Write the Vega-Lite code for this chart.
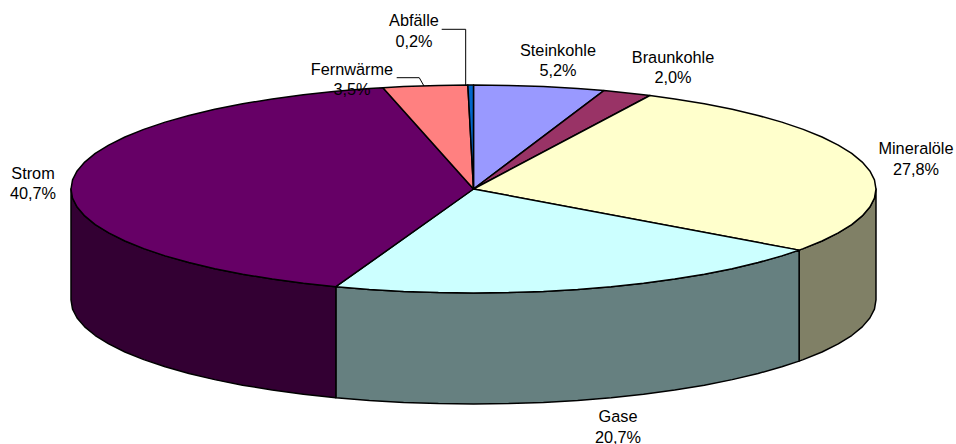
{"$schema":"https://vega.github.io/schema/vega-lite/v6.json","width":956,"height":444,"autosize":{"type":"none"},"padding":0,"background":"#ffffff","view":{"stroke":null},
"layer":[
{"data":{"values":[
{"s":"Mineralöle Seite","x":1,"y":0},{"s":"Mineralöle Seite","x":0.9962,"y":-0.0872},{"s":"Mineralöle Seite","x":0.9848,"y":-0.1736},{"s":"Mineralöle Seite","x":0.9659,"y":-0.2588},{"s":"Mineralöle Seite","x":0.9397,"y":-0.342},{"s":"Mineralöle Seite","x":0.9063,"y":-0.4226},{"s":"Mineralöle Seite","x":0.866,"y":-0.5},{"s":"Mineralöle Seite","x":0.8192,"y":-0.5736},{"s":"Mineralöle Seite","x":0.809,"y":-0.5878},
{"s":"Mineralöle Seite","x":0.809,"y":-1.6548},{"s":"Mineralöle Seite","x":0.8192,"y":-1.6406},{"s":"Mineralöle Seite","x":0.866,"y":-1.567},{"s":"Mineralöle Seite","x":0.9063,"y":-1.4896},{"s":"Mineralöle Seite","x":0.9397,"y":-1.409},{"s":"Mineralöle Seite","x":0.9659,"y":-1.3258},{"s":"Mineralöle Seite","x":0.9848,"y":-1.2406},{"s":"Mineralöle Seite","x":0.9962,"y":-1.1542},{"s":"Mineralöle Seite","x":1,"y":-1.067},
{"s":"Gase Seite","x":0.809,"y":-0.5878},{"s":"Gase Seite","x":0.766,"y":-0.6428},{"s":"Gase Seite","x":0.7071,"y":-0.7071},{"s":"Gase Seite","x":0.6428,"y":-0.766},{"s":"Gase Seite","x":0.5736,"y":-0.8192},{"s":"Gase Seite","x":0.5,"y":-0.866},{"s":"Gase Seite","x":0.4226,"y":-0.9063},{"s":"Gase Seite","x":0.342,"y":-0.9397},{"s":"Gase Seite","x":0.2588,"y":-0.9659},{"s":"Gase Seite","x":0.1736,"y":-0.9848},{"s":"Gase Seite","x":0.0872,"y":-0.9962},{"s":"Gase Seite","x":0,"y":-1},{"s":"Gase Seite","x":-0.0872,"y":-0.9962},{"s":"Gase Seite","x":-0.1736,"y":-0.9848},{"s":"Gase Seite","x":-0.2588,"y":-0.9659},{"s":"Gase Seite","x":-0.342,"y":-0.9397},
{"s":"Gase Seite","x":-0.342,"y":-2.0067},{"s":"Gase Seite","x":-0.2588,"y":-2.0329},{"s":"Gase Seite","x":-0.1736,"y":-2.0518},{"s":"Gase Seite","x":-0.0872,"y":-2.0632},{"s":"Gase Seite","x":0,"y":-2.067},{"s":"Gase Seite","x":0.0872,"y":-2.0632},{"s":"Gase Seite","x":0.1736,"y":-2.0518},{"s":"Gase Seite","x":0.2588,"y":-2.0329},{"s":"Gase Seite","x":0.342,"y":-2.0067},{"s":"Gase Seite","x":0.4226,"y":-1.9733},{"s":"Gase Seite","x":0.5,"y":-1.933},{"s":"Gase Seite","x":0.5736,"y":-1.8862},{"s":"Gase Seite","x":0.6428,"y":-1.833},{"s":"Gase Seite","x":0.7071,"y":-1.7741},{"s":"Gase Seite","x":0.766,"y":-1.7098},{"s":"Gase Seite","x":0.809,"y":-1.6548},
{"s":"Strom Seite","x":-0.342,"y":-0.9397},{"s":"Strom Seite","x":-0.4226,"y":-0.9063},{"s":"Strom Seite","x":-0.5,"y":-0.866},{"s":"Strom Seite","x":-0.5736,"y":-0.8192},{"s":"Strom Seite","x":-0.6428,"y":-0.766},{"s":"Strom Seite","x":-0.7071,"y":-0.7071},{"s":"Strom Seite","x":-0.766,"y":-0.6428},{"s":"Strom Seite","x":-0.8192,"y":-0.5736},{"s":"Strom Seite","x":-0.866,"y":-0.5},{"s":"Strom Seite","x":-0.9063,"y":-0.4226},{"s":"Strom Seite","x":-0.9397,"y":-0.342},{"s":"Strom Seite","x":-0.9659,"y":-0.2588},{"s":"Strom Seite","x":-0.9848,"y":-0.1736},{"s":"Strom Seite","x":-0.9962,"y":-0.0872},{"s":"Strom Seite","x":-1,"y":0},
{"s":"Strom Seite","x":-1,"y":-1.067},{"s":"Strom Seite","x":-0.9962,"y":-1.1542},{"s":"Strom Seite","x":-0.9848,"y":-1.2406},{"s":"Strom Seite","x":-0.9659,"y":-1.3258},{"s":"Strom Seite","x":-0.9397,"y":-1.409},{"s":"Strom Seite","x":-0.9063,"y":-1.4896},{"s":"Strom Seite","x":-0.866,"y":-1.567},{"s":"Strom Seite","x":-0.8192,"y":-1.6406},{"s":"Strom Seite","x":-0.766,"y":-1.7098},{"s":"Strom Seite","x":-0.7071,"y":-1.7741},{"s":"Strom Seite","x":-0.6428,"y":-1.833},{"s":"Strom Seite","x":-0.5736,"y":-1.8862},{"s":"Strom Seite","x":-0.5,"y":-1.933},{"s":"Strom Seite","x":-0.4226,"y":-1.9733},{"s":"Strom Seite","x":-0.342,"y":-2.0067},
{"s":"Steinkohle","x":0,"y":0},{"s":"Steinkohle","x":0,"y":1},{"s":"Steinkohle","x":0.0872,"y":0.9962},{"s":"Steinkohle","x":0.1736,"y":0.9848},{"s":"Steinkohle","x":0.2588,"y":0.9659},{"s":"Steinkohle","x":0.3239,"y":0.9461},
{"s":"Braunkohle","x":0,"y":0},{"s":"Braunkohle","x":0.3239,"y":0.9461},{"s":"Braunkohle","x":0.342,"y":0.9397},{"s":"Braunkohle","x":0.4226,"y":0.9063},{"s":"Braunkohle","x":0.4384,"y":0.8988},
{"s":"Mineralöle","x":0,"y":0},{"s":"Mineralöle","x":0.4384,"y":0.8988},{"s":"Mineralöle","x":0.5,"y":0.866},{"s":"Mineralöle","x":0.5736,"y":0.8192},{"s":"Mineralöle","x":0.6428,"y":0.766},{"s":"Mineralöle","x":0.7071,"y":0.7071},{"s":"Mineralöle","x":0.766,"y":0.6428},{"s":"Mineralöle","x":0.8192,"y":0.5736},{"s":"Mineralöle","x":0.866,"y":0.5},{"s":"Mineralöle","x":0.9063,"y":0.4226},{"s":"Mineralöle","x":0.9397,"y":0.342},{"s":"Mineralöle","x":0.9659,"y":0.2588},{"s":"Mineralöle","x":0.9848,"y":0.1736},{"s":"Mineralöle","x":0.9962,"y":0.0872},{"s":"Mineralöle","x":1,"y":0},{"s":"Mineralöle","x":0.9962,"y":-0.0872},{"s":"Mineralöle","x":0.9848,"y":-0.1736},{"s":"Mineralöle","x":0.9659,"y":-0.2588},{"s":"Mineralöle","x":0.9397,"y":-0.342},{"s":"Mineralöle","x":0.9063,"y":-0.4226},{"s":"Mineralöle","x":0.866,"y":-0.5},{"s":"Mineralöle","x":0.8192,"y":-0.5736},{"s":"Mineralöle","x":0.809,"y":-0.5878},
{"s":"Gase","x":0,"y":0},{"s":"Gase","x":0.809,"y":-0.5878},{"s":"Gase","x":0.766,"y":-0.6428},{"s":"Gase","x":0.7071,"y":-0.7071},{"s":"Gase","x":0.6428,"y":-0.766},{"s":"Gase","x":0.5736,"y":-0.8192},{"s":"Gase","x":0.5,"y":-0.866},{"s":"Gase","x":0.4226,"y":-0.9063},{"s":"Gase","x":0.342,"y":-0.9397},{"s":"Gase","x":0.2588,"y":-0.9659},{"s":"Gase","x":0.1736,"y":-0.9848},{"s":"Gase","x":0.0872,"y":-0.9962},{"s":"Gase","x":0,"y":-1},{"s":"Gase","x":-0.0872,"y":-0.9962},{"s":"Gase","x":-0.1736,"y":-0.9848},{"s":"Gase","x":-0.2588,"y":-0.9659},{"s":"Gase","x":-0.342,"y":-0.9397},
{"s":"Strom","x":0,"y":0},{"s":"Strom","x":-0.342,"y":-0.9397},{"s":"Strom","x":-0.4226,"y":-0.9063},{"s":"Strom","x":-0.5,"y":-0.866},{"s":"Strom","x":-0.5736,"y":-0.8192},{"s":"Strom","x":-0.6428,"y":-0.766},{"s":"Strom","x":-0.7071,"y":-0.7071},{"s":"Strom","x":-0.766,"y":-0.6428},{"s":"Strom","x":-0.8192,"y":-0.5736},{"s":"Strom","x":-0.866,"y":-0.5},{"s":"Strom","x":-0.9063,"y":-0.4226},{"s":"Strom","x":-0.9397,"y":-0.342},{"s":"Strom","x":-0.9659,"y":-0.2588},{"s":"Strom","x":-0.9848,"y":-0.1736},{"s":"Strom","x":-0.9962,"y":-0.0872},{"s":"Strom","x":-1,"y":0},{"s":"Strom","x":-0.9962,"y":0.0872},{"s":"Strom","x":-0.9848,"y":0.1736},{"s":"Strom","x":-0.9659,"y":0.2588},{"s":"Strom","x":-0.9397,"y":0.342},{"s":"Strom","x":-0.9063,"y":0.4226},{"s":"Strom","x":-0.866,"y":0.5},{"s":"Strom","x":-0.8192,"y":0.5736},{"s":"Strom","x":-0.766,"y":0.6428},{"s":"Strom","x":-0.7071,"y":0.7071},{"s":"Strom","x":-0.6428,"y":0.766},{"s":"Strom","x":-0.5736,"y":0.8192},{"s":"Strom","x":-0.5,"y":0.866},{"s":"Strom","x":-0.4226,"y":0.9063},{"s":"Strom","x":-0.342,"y":0.9397},{"s":"Strom","x":-0.2588,"y":0.9659},{"s":"Strom","x":-0.225,"y":0.9744},
{"s":"Fernwärme","x":0,"y":0},{"s":"Fernwärme","x":-0.225,"y":0.9744},{"s":"Fernwärme","x":-0.1736,"y":0.9848},{"s":"Fernwärme","x":-0.0872,"y":0.9962},{"s":"Fernwärme","x":-0.014,"y":0.9999},
{"s":"Abfälle","x":0,"y":0},{"s":"Abfälle","x":-0.014,"y":0.9999},{"s":"Abfälle","x":0,"y":1}
]},
"mark":{"type":"line","filled":true,"interpolate":"linear-closed","stroke":"#000000","strokeWidth":1.5,"strokeJoin":"round"},
"encoding":{
"x":{"field":"x","type":"quantitative","axis":null,"scale":{"domain":[-1.1764,1.1988],"nice":false,"zero":false}},
"y":{"field":"y","type":"quantitative","axis":null,"scale":{"domain":[-2.4519,1.8173],"nice":false,"zero":false}},
"detail":{"field":"s"},
"order":{"value":null},
"color":{"field":"s","type":"nominal","legend":null,"scale":{"domain":["Steinkohle","Braunkohle","Mineralöle","Gase","Strom","Fernwärme","Abfälle","Mineralöle Seite","Gase Seite","Strom Seite"],"range":["#9999FF","#993366","#FFFFCC","#CCFFFF","#660066","#FF8080","#0066CC","#808066","#668080","#330033"]}}
}},
{"data":{"values":[
{"l":"Abfälle","x":-0.079,"y":1.5356},{"l":"Abfälle","x":-0.0194,"y":1.5356},{"l":"Abfälle","x":-0.0194,"y":1},
{"l":"Fernwärme","x":-0.1908,"y":1.0702},{"l":"Fernwärme","x":-0.1347,"y":1.0702},{"l":"Fernwärme","x":-0.123,"y":0.9904}
]},
"mark":{"type":"line","stroke":"#000000","strokeWidth":1},
"encoding":{
"x":{"field":"x","type":"quantitative","axis":null},
"y":{"field":"y","type":"quantitative","axis":null},
"detail":{"field":"l"},
"order":{"value":null}
}},
{"data":{"values":[
{"label":"Abfälle\n0,2%","x":-0.1478,"y":1.615},
{"label":"Fernwärme\n3,5%","x":-0.3019,"y":1.149},
{"label":"Steinkohle\n5,2%","x":0.2099,"y":1.327},
{"label":"Braunkohle\n2,0%","x":0.4957,"y":1.264},
{"label":"Mineralöle\n27,8%","x":1.0994,"y":0.38},
{"label":"Gase\n20,7%","x":0.359,"y":-2.197},
{"label":"Strom\n40,7%","x":-1.0944,"y":0.149}
]},
"mark":{"type":"text","font":"Liberation Sans","fontSize":16.3,"lineHeight":20.5,"lineBreak":"\n","align":"center","baseline":"middle","color":"#000000"},
"encoding":{
"x":{"field":"x","type":"quantitative","axis":null},
"y":{"field":"y","type":"quantitative","axis":null},
"text":{"field":"label","type":"nominal"}
}}
]}
